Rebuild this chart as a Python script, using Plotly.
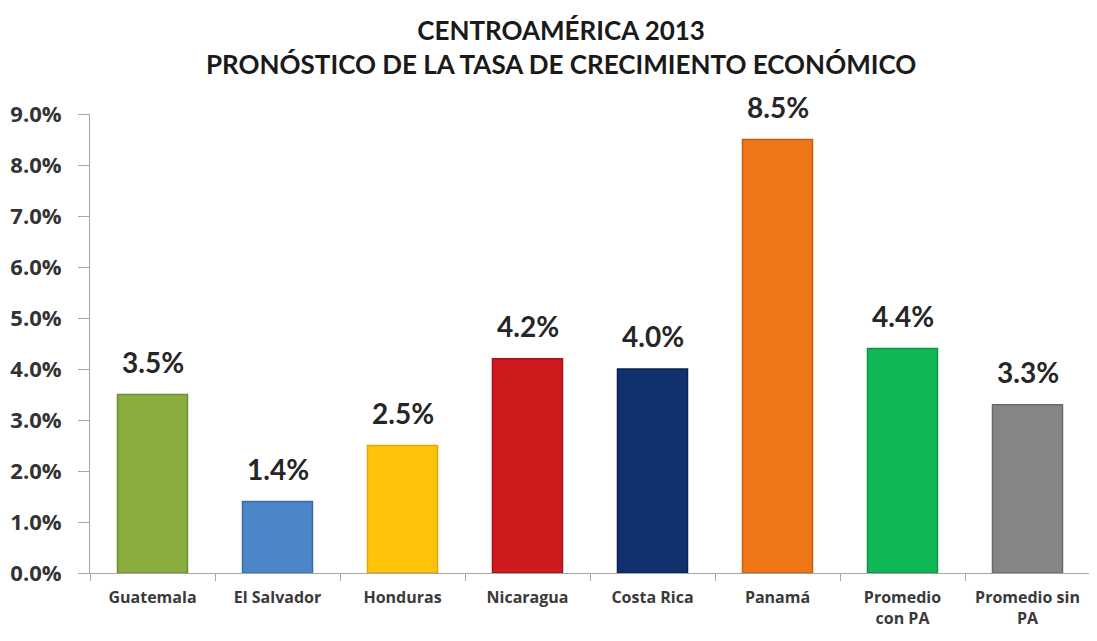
import plotly.graph_objects as go

categories = ["Guatemala", "El Salvador", "Honduras", "Nicaragua", "Costa Rica", "Panamá", "Promedio<br>con PA", "Promedio sin<br>PA"]
values = [3.5, 1.4, 2.5, 4.2, 4.0, 8.5, 4.4, 3.3]
labels = ["3.5%", "1.4%", "2.5%", "4.2%", "4.0%", "8.5%", "4.4%", "3.3%"]
colors = ["#88AD3E", "#4A86C8", "#FFC40A", "#CF1A1E", "#10306E", "#F07618", "#10B855", "#858585"]
edge_colors = ["#6E8E30", "#3A6DA6", "#E0A800", "#A81216", "#0A2250", "#C85E10", "#0C9444", "#6A6A6A"]
y_ticks = [0, 1, 2, 3, 4, 5, 6, 7, 8, 9]
y_tick_text = ["0.0%", "1.0%", "2.0%", "3.0%", "4.0%", "5.0%", "6.0%", "7.0%", "8.0%", "9.0%"]
title_lines = ["CENTROAMÉRICA 2013", "PRONÓSTICO DE LA TASA DE CRECIMIENTO ECONÓMICO"]

fig = go.Figure(go.Bar(
    x=categories, y=values, width=0.56,
    marker=dict(color=colors, line=dict(color=edge_colors, width=1.5)),
    hoverinfo="x+y",
))

for c, v, t in zip(categories, values, labels):
    fig.add_annotation(x=c, y=v, text=f"<b>{t}</b>", showarrow=False,
                       yanchor="bottom", yshift=14,
                       font=dict(family="Lato", size=28, color="#262626"))

fig.add_annotation(xref="paper", yref="paper", x=0.471, y=1.145,
                   text=f"<b>{title_lines[0]}</b><br><b>{title_lines[1]}</b>",
                   showarrow=False, xanchor="center", yanchor="middle", align="center",
                   font=dict(family="Lato", size=26, color="#1a1a1a"))

fig.update_layout(
    width=1089, height=633,
    margin=dict(l=82, r=7, t=106, b=68),
    paper_bgcolor="white", plot_bgcolor="white",
    showlegend=False,
)
fig.update_xaxes(showline=True, linecolor="#a6a6a6", linewidth=1,
                 ticks="outside", tickson="boundaries", ticklen=7, tickcolor="#a6a6a6",
                 tickvals=categories, ticktext=[f"<b>{c}</b>" for c in categories],
                 ticklabelstandoff=10,
                 tickfont=dict(family="Open Sans", size=16, color="#3a3a3a"),
                 showgrid=False, automargin=False)
fig.update_yaxes(range=[0, 9], tickvals=y_ticks, ticktext=[f"<b>{t}</b>" for t in y_tick_text],
                 showline=True, linecolor="#a6a6a6", linewidth=1,
                 ticks="outside", ticklen=11, tickcolor="#a6a6a6", ticklabelstandoff=12,
                 tickfont=dict(family="Open Sans", size=22, color="#333333"),
                 showgrid=False, zeroline=False, automargin=False)

fig.write_html("out.html")
